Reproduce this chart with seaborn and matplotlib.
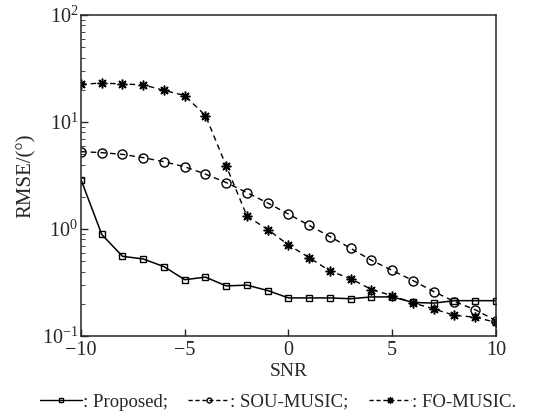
import numpy as np
import pandas as pd
import seaborn as sns
import matplotlib.pyplot as plt
from matplotlib.lines import Line2D

## data
snr = list(range(-10, 11))
proposed = [2.9, 0.89, 0.556, 0.525, 0.445, 0.336, 0.355, 0.294, 0.299, 0.266, 0.227,
            0.227, 0.227, 0.223, 0.232, 0.232, 0.206, 0.203, 0.214, 0.214, 0.214]
sou_music = [5.29, 5.18, 4.99, 4.65, 4.26, 3.82, 3.26, 2.72, 2.19, 1.75, 1.38,
             1.08, 0.85, 0.66, 0.51, 0.41, 0.33, 0.26, 0.21, 0.176, 0.139]
fo_music = [22.5, 23.2, 22.7, 22.3, 19.8, 17.7, 11.5, 3.88, 1.32, 0.99, 0.71,
            0.54, 0.405, 0.343, 0.272, 0.238, 0.204, 0.179, 0.156, 0.15, 0.134]
legend_labels = [': Proposed;', ': SOU-MUSIC;', ': FO-MUSIC.']

sns.set_style("ticks")
plt.rcParams['font.family'] = ['Liberation Serif', 'DejaVu Serif']
plt.rcParams['mathtext.fontset'] = 'stix'
plt.rcParams['xtick.direction'] = 'in'
plt.rcParams['ytick.direction'] = 'in'

df = pd.DataFrame({'SNR': snr, 'Proposed': proposed, 'SOU-MUSIC': sou_music, 'FO-MUSIC': fo_music})

fig = plt.figure(figsize=(5.4, 4.2), dpi=100)
ax = fig.add_axes([0.15, 0.2, 0.7685, 0.764])

# asterisk-like marker for FO-MUSIC
star = (8, 2, 0)

sns.lineplot(data=df, x='SNR', y='Proposed', ax=ax, color='black', lw=1.1,
             marker='s', markersize=5, markerfacecolor='none', markeredgecolor='black', markeredgewidth=1)
sns.lineplot(data=df, x='SNR', y='SOU-MUSIC', ax=ax, color='black', lw=1.0, dashes=(4, 3),
             marker='o', markersize=6.5, markerfacecolor='none', markeredgecolor='black', markeredgewidth=1)
sns.lineplot(data=df, x='SNR', y='FO-MUSIC', ax=ax, color='black', lw=1.0, dashes=(4, 3),
             marker=star, markersize=7, markeredgecolor='black', markeredgewidth=1.1)

ax.set_yscale('log')
ax.set_xlim(-10, 10)
ax.set_ylim(0.1, 100)
ax.set_xticks([-10, -5, 0, 5, 10])
ax.set_xlabel('SNR', fontsize=14, labelpad=2)
ax.set_ylabel('RMSE/(°)', fontsize=15, labelpad=4)
ax.tick_params(axis='both', labelsize=14.5, length=5, width=1, top=False, right=False, pad=2)
ax.tick_params(axis='x', pad=3.5)
ax.tick_params(axis='y', which='minor', length=3, right=False)
for s in ax.spines.values():
    s.set_linewidth(1.1)
    s.set_visible(True)

handles = [
    Line2D([], [], color='black', lw=1.0, marker='s', markersize=3.5, markerfacecolor='none'),
    Line2D([], [], color='black', lw=1.0, dashes=(3, 2), marker='o', markersize=3.5, markerfacecolor='none'),
    Line2D([], [], color='black', lw=1.0, dashes=(3, 2), marker=star, markersize=5, markeredgewidth=0.9),
]
fig.legend(handles, legend_labels, loc='lower center',
           bbox_to_anchor=(0.515, -0.018), ncol=3, frameon=False, fontsize=13.5,
           handlelength=2.2, handletextpad=0.05, columnspacing=1.1)

plt.savefig('out.png', dpi=100)
plt.close()
